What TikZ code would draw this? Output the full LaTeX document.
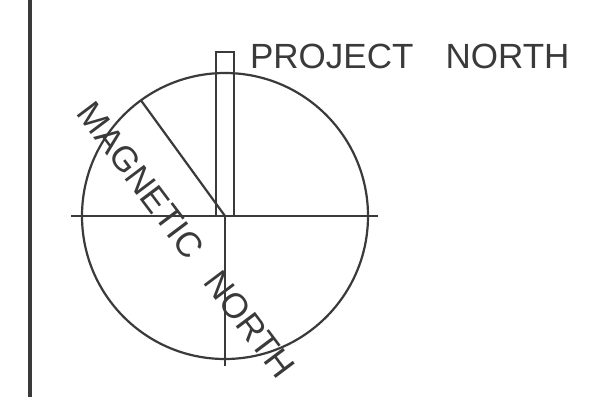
\documentclass[tikz,border=0pt]{standalone}
\usepackage{fontspec}
\setmainfont{Liberation Sans}
\usepackage{tikz}
\usetikzlibrary{calc}
\definecolor{ink}{HTML}{3A3A3A}
\definecolor{paper}{HTML}{FFFFFF}

\begin{document}
\begin{tikzpicture}[x=1pt,y=-1pt,line width=2.2pt,color=ink]
\useasboundingbox (0,0) rectangle (597,397);
\fill[paper] (0,0) rectangle (597,397);
\draw[line width=4.5pt] (30,0) -- (30,397);

% compass circle and axes
\coordinate (c) at (225,216);
\draw (c) circle[radius=143];
\draw (71,216) -- (378,216);
\draw (c) -- (225,366);

% project north bar
\draw (216,52) rectangle (234,216);
\node[font=\fontsize{35}{40}\selectfont,anchor=base west,inner sep=0pt] (pn) at (249,68)
  {PROJECT\hspace{0.92em}NORTH};

% magnetic north
\draw (c) -- ++({-143*sin(36)},{-143*cos(36)}) coordinate (mtip);
\node[font=\fontsize{35}{40}\selectfont,anchor=base west,inner sep=0pt,rotate=-53] (mn) at (75.1,112.9)
  {MAGNETIC\hspace{0.75em}NORTH};
\end{tikzpicture}
\end{document}
